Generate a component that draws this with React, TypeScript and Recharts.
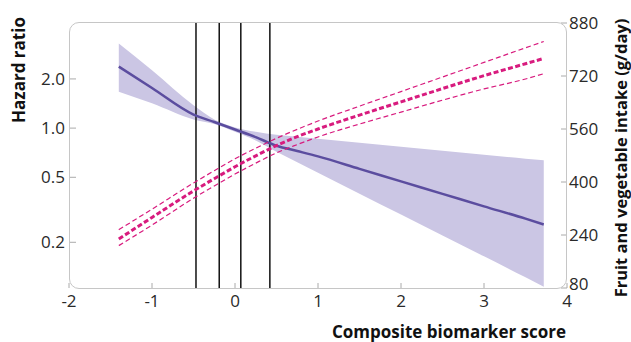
import { ComposedChart, Area, Line, XAxis, YAxis, ReferenceLine } from 'recharts'

const scores = [-1.4, -1.0, -0.5, -0.25, 0, 0.25, 0.5, 0.75, 1.0, 1.5, 2.0, 2.5, 3.0, 3.5, 3.72]
const hazardRatio = [2.38, 1.76, 1.21, 1.09, 0.98, 0.88, 0.78, 0.724, 0.671, 0.563, 0.472, 0.396, 0.332, 0.279, 0.257]
const hazardLow = [1.67, 1.42, 1.13, 1.06, 0.95, 0.84, 0.716, 0.618, 0.533, 0.397, 0.296, 0.22, 0.164, 0.122, 0.107]
const hazardHigh = [3.3, 2.26, 1.38, 1.13, 1.01, 0.95, 0.91, 0.885, 0.861, 0.813, 0.769, 0.727, 0.687, 0.65, 0.635]
const intake = [228, 293, 373, 410, 446, 479, 510, 537, 560, 602, 642, 682, 721, 757, 773]
const intakeLow = [208, 270, 351, 388, 424, 457, 488, 513, 536, 575, 611, 647, 681, 711, 727]
const intakeHigh = [256, 318, 397, 434, 470, 502, 532, 559, 584, 629, 673, 717, 761, 805, 824]

const scoreTicks = [-2, -1, 0, 1, 2, 3, 4]
const hazardTicks = [0.2, 0.5, 1, 2]
const intakeTicks = [80, 240, 400, 560, 720, 880]
const cutoffs = [-0.47, -0.19, 0.07, 0.42]

const data = scores.map((x, i) => ({
  x,
  hr: hazardRatio[i],
  hrBand: [hazardLow[i], hazardHigh[i]],
  fv: intake[i],
  fvLow: intakeLow[i],
  fvHigh: intakeHigh[i],
}))

const FONT = '"Open Sans", sans-serif'
const tickStyle = { fontSize: 17, fill: '#2a2a2a', fontFamily: FONT }
const titleStyle = { fontSize: 17, fontWeight: 700, fill: '#111', fontFamily: FONT }
const PINK = '#d81b7e'

// the lowest right label sits a little above its tick, clear of the "4"
const IntakeTick = ({ x, y, payload }: any) => (
  <text x={x} y={y + (payload.value === 80 ? -4 : 0)} dy="0.355em" textAnchor="start" style={tickStyle}>
    {payload.value}
  </text>
)

export default function App() {
  return (
    <div style={{ position: 'absolute', left: 0, top: 0, width: 631, height: 342, background: '#fff' }}>
      <ComposedChart width={631} height={342} data={data} margin={{ top: 23, right: 0, bottom: 0, left: 0 }}>
        <XAxis
          dataKey="x"
          type="number"
          domain={[-2, 4]}
          ticks={scoreTicks}
          axisLine={false}
          tickSize={-5}
          tickMargin={12}
          tickLine={{ stroke: '#aaa' }}
          tick={tickStyle}
          height={54}
          label={{
            content: () => (
              <text x={449} y={338} textAnchor="middle" style={titleStyle}>Composite biomarker score</text>
            ),
          }}
        />
        <YAxis
          yAxisId="hr"
          scale="log"
          domain={[0.105, 4.4]}
          allowDataOverflow
          ticks={hazardTicks}
          tickFormatter={(v: number) => v.toFixed(1)}
          axisLine={false}
          tickSize={-7}
          tickMargin={11}
          tickLine={{ stroke: '#aaa' }}
          tick={tickStyle}
          width={69}
          label={{
            content: () => (
              <text x={25} y={70} textAnchor="middle" transform="rotate(-90 25 70)" style={titleStyle}>Hazard ratio</text>
            ),
          }}
        />
        <YAxis
          yAxisId="fv"
          orientation="right"
          domain={[80, 880]}
          ticks={intakeTicks}
          axisLine={false}
          tickSize={-6}
          tickMargin={8}
          tickLine={{ stroke: '#aaa' }}
          tick={<IntakeTick />}
          width={64}
          label={{
            content: () => (
              <text x={627} y={158} textAnchor="middle" transform="rotate(-90 627 158)" style={{ ...titleStyle, fontSize: 16.5 }}>Fruit and vegetable intake (g/day)</text>
            ),
          }}
        />
        <Area yAxisId="hr" dataKey="hrBand" type="monotone" fill="#cbc6e4" fillOpacity={1} stroke="none" isAnimationActive={false} />
        {cutoffs.map((c) => (
          <ReferenceLine key={c} yAxisId="hr" x={c} stroke="#111" strokeWidth={1.5} />
        ))}
        <Line yAxisId="hr" dataKey="hr" type="monotone" stroke="#5b4d9f" strokeWidth={2.5} dot={false} isAnimationActive={false} />
        <Line yAxisId="fv" dataKey="fvHigh" type="monotone" stroke={PINK} strokeWidth={1.2} strokeDasharray="5 3" dot={false} isAnimationActive={false} />
        <Line yAxisId="fv" dataKey="fvLow" type="monotone" stroke={PINK} strokeWidth={1.2} strokeDasharray="5 3" dot={false} isAnimationActive={false} />
        <Line yAxisId="fv" dataKey="fv" type="monotone" stroke={PINK} strokeWidth={3} strokeDasharray="5 2.5" dot={false} isAnimationActive={false} />
      </ComposedChart>
      <div
        style={{
          position: 'absolute',
          left: 69,
          top: 22,
          width: 498,
          height: 267,
          border: '1.5px solid #c6c6c6',
          borderRadius: 10,
          boxSizing: 'border-box',
          pointerEvents: 'none',
        }}
      />
    </div>
  )
}
